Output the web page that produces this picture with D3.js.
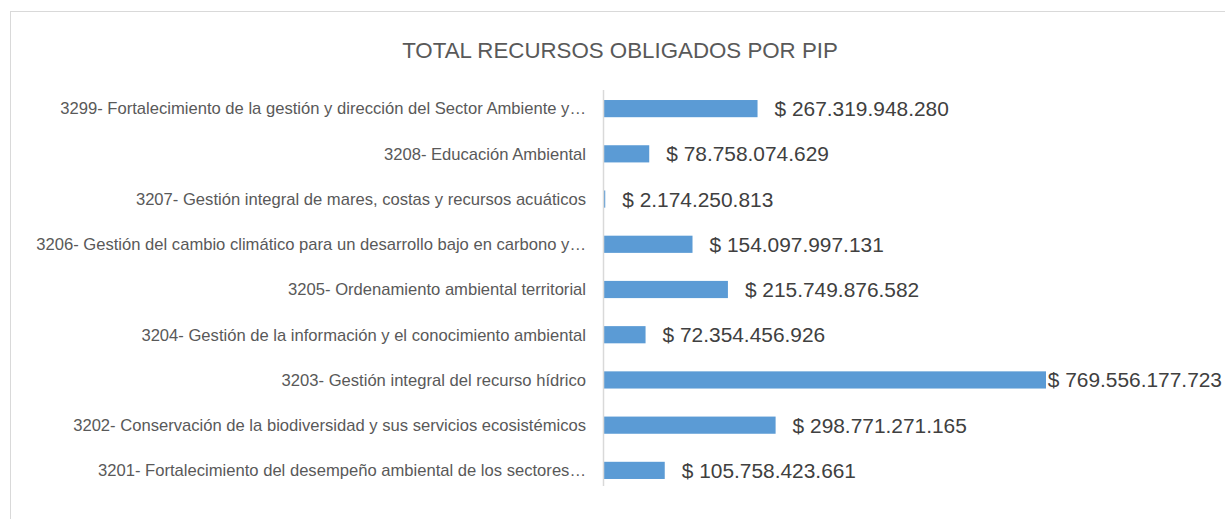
<!DOCTYPE html>
<html>
<head>
<meta charset="utf-8">
<script src="https://cdn.jsdelivr.net/npm/d3@7"></script>
<style>
  body { margin: 0; background: #fff; }
  text { font-family: "Liberation Sans", Arial, sans-serif; }
</style>
</head>
<body>
<script>
// categories top -> bottom, as shown in the chart
const categories = [
    "3299- Fortalecimiento de la gestión y dirección del Sector Ambiente y…",
    "3208- Educación Ambiental",
    "3207- Gestión integral de mares, costas y recursos acuáticos",
    "3206- Gestión del cambio climático para un desarrollo bajo en carbono y…",
    "3205- Ordenamiento ambiental territorial",
    "3204- Gestión de la información y el conocimiento ambiental",
    "3203- Gestión integral del recurso hídrico",
    "3202- Conservación de la biodiversidad y sus servicios ecosistémicos",
    "3201- Fortalecimiento del desempeño ambiental de los sectores…"
]
const values = [
    267319948280,
    78758074629,
    2174250813,
    154097997131,
    215749876582,
    72354456926,
    769556177723,
    298771271165,
    105758423661
]
const title = "TOTAL RECURSOS OBLIGADOS POR PIP"

const W = 1225, H = 519
const svg = d3.select("body").append("svg")
    .attr("width", W)
    .attr("height", H)

// chart frame
svg.append("rect")
    .attr("x", 10.5).attr("y", 11.5)
    .attr("width", W).attr("height", H)
    .attr("fill", "none")
    .attr("stroke", "#d9d9d9")

svg.append("text")
    .text(title)
    .attr("x", 620).attr("y", 58)
    .attr("text-anchor", "middle")
    .attr("font-size", 22.3)
    .attr("fill", "#595959")

const x0 = 604
const x = d3.scaleLinear()
    .domain([0, d3.max(values)])
    .range([x0, 1046])

const y = d3.scaleBand()
    .domain(categories)
    .range([86, 493])
    .paddingInner(0.62)
    .paddingOuter(0.31)

const locale = d3.formatLocale({decimal: ",", thousands: ".", grouping: [3], currency: ["$ ", ""]})
const fmt = locale.format("$,.0f")

const rows = categories.map((c, i) => ({cat: c, val: values[i]}))

svg.selectAll("rect.bar")
    .data(rows)
    .enter()
    .append("rect")
    .attr("class", "bar")
    .attr("x", x0)
    .attr("y", d => y(d.cat))
    .attr("width", d => x(d.val) - x0)
    .attr("height", y.bandwidth())
    .attr("fill", "#5b9bd5")

// axis line
svg.append("line")
    .attr("x1", x0 - 0.5).attr("x2", x0 - 0.5)
    .attr("y1", 90).attr("y2", 486)
    .attr("stroke", "#d9d9d9")
    .attr("stroke-width", 1.5)

svg.selectAll("text.cat")
    .data(rows)
    .enter()
    .append("text")
    .attr("class", "cat")
    .text(d => d.cat)
    .attr("x", x0 - 18)
    .attr("y", d => y(d.cat) + y.bandwidth() / 2)
    .attr("dy", "0.35em")
    .attr("text-anchor", "end")
    .attr("font-size", 16.6)
    .attr("fill", "#595959")

svg.selectAll("text.val")
    .data(rows)
    .enter()
    .append("text")
    .attr("class", "val")
    .text(d => fmt(d.val))
    .attr("y", d => y(d.cat) + y.bandwidth() / 2)
    .attr("dy", "0.36em")
    .attr("font-size", 20.9)
    .attr("fill", "#404040")
    .attr("x", function(d){
        let w = this.getComputedTextLength()
        return Math.min(x(d.val) + 17, 1222 - w)
    })
</script>
</body>
</html>
